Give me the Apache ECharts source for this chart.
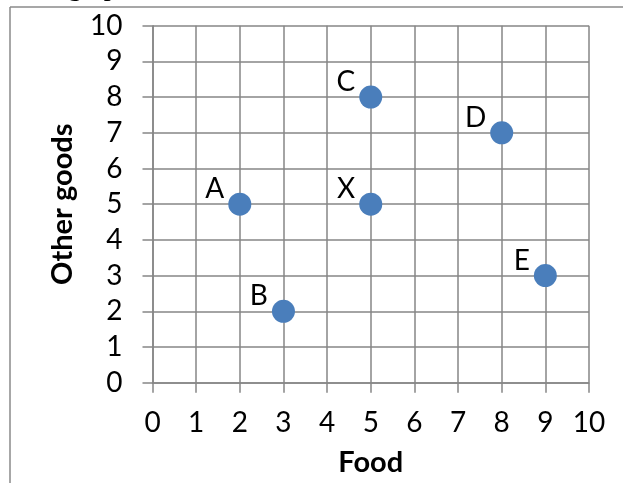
<!DOCTYPE html>
<html><head><meta charset="utf-8">
<script src="https://cdn.jsdelivr.net/npm/echarts@6/dist/echarts.min.js"></script>
<style>html,body{margin:0;padding:0;background:#fff}#c{width:623px;height:483px}</style>
</head><body><div id="c"></div>
<script>
const pointNames = ['A', 'B', 'C', 'D', 'E', 'X'];
const foodValues = [2, 3, 5, 8, 9, 5];
const otherGoodsValues = [5, 2, 8, 7, 3, 5];
const xAxisTitle = 'Food';
const yAxisTitle = 'Other goods';
const axisMin = 0, axisMax = 10, axisStep = 1;

const FONT = 'Lato';
const GRID = '#868686';
const chart = echarts.init(document.getElementById('c'), null, {renderer: 'canvas'});

const points = pointNames.map((n, i) => ({name: n, value: [foodValues[i], otherGoodsValues[i]]}));

function axis(name, isX) {
  return {
    type: 'value', min: axisMin, max: axisMax, interval: axisStep,
    name: name, nameLocation: 'middle', nameGap: isX ? 65 : 75,
    nameTextStyle: {fontFamily: FONT, fontSize: 29, fontWeight: 'bold', color: '#000'},
    axisLine: {show: true, onZero: false, lineStyle: {color: GRID, width: 1.5}},
    axisTick: {show: true, length: 10, lineStyle: {color: GRID, width: 1.5}},
    axisLabel: {fontFamily: FONT, fontSize: 28, color: '#000', margin: isX ? 26 : 30},
    splitLine: {show: true, lineStyle: {color: GRID, width: 1.5}}
  };
}

chart.setOption({
  animation: false,
  backgroundColor: '#fff',
  grid: {left: 152.5, right: 34, top: 25.7, bottom: 100.3, containLabel: false},
  xAxis: axis(xAxisTitle, true),
  yAxis: axis(yAxisTitle, false),
  series: [{
    type: 'scatter',
    data: points,
    symbol: 'circle',
    symbolSize: 23,
    itemStyle: {color: '#4A7EBB', opacity: 1},
    label: {
      show: true, formatter: '{b}', position: 'left', distance: 4,
      offset: [0, -15],
      fontFamily: FONT, fontSize: 28, color: '#000'
    }
  }],
  graphic: [
    {type: 'line', shape: {x1: 10, y1: 7, x2: 623, y2: 7}, style: {stroke: '#8a8a8a', lineWidth: 1.5}, silent: true},
    {type: 'line', shape: {x1: 10, y1: 7, x2: 10, y2: 483}, style: {stroke: '#8a8a8a', lineWidth: 1.5}, silent: true},
    {type: 'text', x: 68, y: -26, style: {text: 'graph', font: '28px "Liberation Serif"', fill: '#000'}, silent: true}
  ]
});
</script>
</body></html>
